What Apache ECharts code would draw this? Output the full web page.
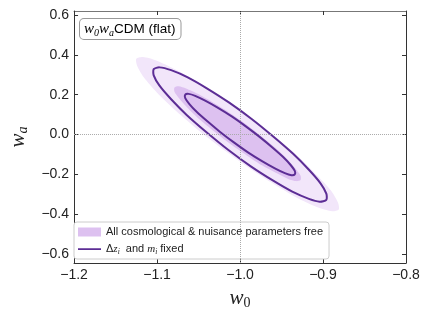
<!DOCTYPE html>
<html>
<head>
<meta charset="utf-8">
<script src="https://cdn.jsdelivr.net/npm/echarts@6/dist/echarts.min.js"></script>
<style>
  html, body { margin: 0; background: #fff; }
  #chart { width: 430px; height: 322px; }
</style>
</head>
<body>
<div id="chart"></div>
<script>
// contour outlines, [w0, wa]
const freeOuter = [
  [-0.881, -0.376], [-0.882, -0.341], [-0.890, -0.283], [-0.907, -0.206], [-0.929, -0.114], [-0.957, -0.014],
  [-0.988, 0.086], [-1.020, 0.181], [-1.051, 0.264], [-1.079, 0.329], [-1.101, 0.372], [-1.117, 0.389],
  [-1.125, 0.380], [-1.124, 0.345], [-1.116, 0.287], [-1.100, 0.210], [-1.077, 0.118], [-1.049, 0.018],
  [-1.018, -0.082], [-0.986, -0.177], [-0.955, -0.260], [-0.928, -0.325], [-0.905, -0.368], [-0.889, -0.385]
];
const freeInner = [
  [-0.927, -0.228], [-0.927, -0.207], [-0.933, -0.172], [-0.943, -0.125], [-0.957, -0.068], [-0.975, -0.007],
  [-0.994, 0.055], [-1.014, 0.113], [-1.034, 0.164], [-1.051, 0.204], [-1.065, 0.231], [-1.074, 0.242],
  [-1.079, 0.236], [-1.079, 0.215], [-1.073, 0.180], [-1.063, 0.133], [-1.049, 0.076], [-1.031, 0.015],
  [-1.012, -0.047], [-0.992, -0.105], [-0.973, -0.156], [-0.955, -0.196], [-0.942, -0.223], [-0.932, -0.234]
];
const fixedOuter = [
  [-0.896, -0.328], [-0.896, -0.297], [-0.903, -0.245], [-0.917, -0.177], [-0.936, -0.097], [-0.960, -0.010],
  [-0.986, 0.078], [-1.013, 0.160], [-1.040, 0.232], [-1.063, 0.287], [-1.083, 0.323], [-1.097, 0.337],
  [-1.104, 0.328], [-1.104, 0.297], [-1.097, 0.245], [-1.083, 0.177], [-1.064, 0.097], [-1.040, 0.010],
  [-1.014, -0.078], [-0.987, -0.160], [-0.960, -0.232], [-0.937, -0.287], [-0.917, -0.323], [-0.904, -0.337]
];
const fixedInner = [
  [-0.934, -0.200], [-0.934, -0.183], [-0.939, -0.153], [-0.948, -0.113], [-0.961, -0.065], [-0.976, -0.013],
  [-0.993, 0.041], [-1.010, 0.091], [-1.027, 0.135], [-1.042, 0.170], [-1.054, 0.194], [-1.062, 0.204],
  [-1.066, 0.200], [-1.066, 0.183], [-1.061, 0.153], [-1.052, 0.113], [-1.039, 0.065], [-1.024, 0.013],
  [-1.007, -0.041], [-0.990, -0.091], [-0.973, -0.135], [-0.958, -0.170], [-0.946, -0.194], [-0.938, -0.204]
];

const fiducial = [-1.0, 0.0];
const yTicks = [-0.6, -0.4, -0.2, 0.0, 0.2, 0.4, 0.6];
const names = ['All cosmological & nuisance parameters free', 'fixed'];

const LIGHT = '#f2e6fa';
const MEDIUM = '#ddc1f0';
const DARK = '#5c2d95';
const SANS = 'Liberation Sans';
const SERIF = 'Liberation Serif';

const fmt = v => (v < 0 ? '\u2212' : '') + Math.abs(v).toFixed(1);

function contour(name, pts, fill, stroke, z) {
  return {
    type: 'custom',
    name: name,
    z: z,
    silent: true,
    data: [fiducial],
    itemStyle: { color: fill || stroke },
    renderItem: (params, api) => ({
      type: 'polygon',
      shape: { points: pts.map(p => api.coord(p)), smooth: 0.25 },
      style: { fill: fill || 'none', stroke: stroke || null, lineWidth: 2 }
    })
  };
}

const axisLineStyle = { color: '#333', width: 1 };
const tickStyle = { inside: true, length: 4, lineStyle: { color: '#333' } };
const labelStyle = { fontFamily: SANS, fontSize: 14, color: '#222', formatter: fmt };
const mathRich = {
  i: { fontFamily: SERIF, fontStyle: 'italic', fontSize: 21, color: '#222', lineHeight: 24 },
  s: { fontFamily: SERIF, fontSize: 14, color: '#222', lineHeight: 24, verticalAlign: 'bottom' },
  t: { fontFamily: SERIF, fontStyle: 'italic', fontSize: 14, color: '#222', lineHeight: 24, verticalAlign: 'bottom' }
};

const chart = echarts.init(document.getElementById('chart'));
chart.setOption({
  animation: false,
  grid: { left: 69, right: 24, top: 11, bottom: 59 },
  xAxis: [{
    type: 'value', min: -1.2, max: -0.8, interval: 0.1, position: 'bottom',
    axisLine: { onZero: false, lineStyle: axisLineStyle }, axisTick: tickStyle,
    axisLabel: Object.assign({ margin: 5 }, labelStyle),
    splitLine: { show: false },
    name: '{i|w}{s|0}', nameLocation: 'middle', nameGap: 23,
    nameTextStyle: { rich: mathRich }
  }, {
    type: 'value', min: -1.2, max: -0.8, interval: 0.1, position: 'top',
    axisLine: { onZero: false, lineStyle: { color: '#777' } }, axisTick: tickStyle,
    axisLabel: { show: false }, splitLine: { show: false }
  }],
  yAxis: [{
    type: 'value', min: -0.645, max: 0.62, position: 'left',
    axisLine: { onZero: false, lineStyle: axisLineStyle },
    axisTick: Object.assign({ customValues: yTicks }, tickStyle),
    axisLabel: Object.assign({ customValues: yTicks, margin: 5 }, labelStyle),
    splitLine: { show: false },
    name: '{i|w}{t|a}', nameLocation: 'middle', nameGap: 33, nameRotate: 90,
    nameTextStyle: { rich: mathRich }
  }, {
    type: 'value', min: -0.645, max: 0.62, position: 'right',
    axisLine: { onZero: false, lineStyle: axisLineStyle },
    axisTick: Object.assign({ customValues: yTicks }, tickStyle),
    axisLabel: { show: false }, splitLine: { show: false }
  }],
  legend: {
    orient: 'vertical', left: 74, top: 222,
    data: [
      { name: names[0], icon: 'rect', itemStyle: { color: MEDIUM } },
      { name: names[1], icon: 'path://M0,0h0.01M0,3.7H23V5.5H0ZM22.99,9h0.01', itemStyle: { color: DARK } }
    ],
    itemWidth: 23, itemHeight: 9, itemGap: 3,
    padding: [3, 6, 3, 4],
    borderColor: '#ccc', borderWidth: 1, borderRadius: 3, backgroundColor: '#fff',
    textStyle: {
      fontFamily: SANS, fontSize: 11, color: '#222', lineHeight: 14,
      rich: {
        n: { fontFamily: SANS, fontSize: 11, color: '#222' },
        i: { fontFamily: SERIF, fontStyle: 'italic', fontSize: 11, color: '#222' },
        s: { fontFamily: SERIF, fontStyle: 'italic', fontSize: 7.5, color: '#222', verticalAlign: 'bottom' }
      }
    },
    formatter: n => n === names[1]
      ? '{n|\u0394}{i|z}{s|i}{n|  and }{i|m}{s|i}{n| fixed}'
      : '{n|' + n + '}'
  },
  graphic: [{
    type: 'text', left: 79, top: 18, z: 100,
    style: {
      text: '{i|w}{s|0}{i|w}{s|a}{n|CDM (flat)}',
      backgroundColor: '#fff', borderColor: '#999', borderWidth: 1, borderRadius: 4,
      padding: [2, 5, 1, 4],
      rich: {
        i: { fontFamily: SERIF, fontStyle: 'italic', fontSize: 15, color: '#222', lineHeight: 17 },
        s: { fontFamily: SERIF, fontStyle: 'italic', fontSize: 10, color: '#222', lineHeight: 17, verticalAlign: 'bottom' },
        n: { fontFamily: SANS, fontSize: 13.5, color: '#222', lineHeight: 17 }
      }
    }
  }],
  series: [
    contour(names[0], freeOuter, LIGHT, null, 1),
    contour(names[0], freeInner, MEDIUM, null, 2),
    {
      type: 'line', data: [], z: 3, silent: true,
      markLine: {
        silent: true, symbol: 'none', label: { show: false },
        lineStyle: { type: 'dotted', color: '#aaa', width: 1 },
        data: [{ xAxis: fiducial[0] }, { yAxis: fiducial[1] }]
      }
    },
    contour(names[1], fixedOuter, null, DARK, 4),
    contour(names[1], fixedInner, null, DARK, 5)
  ]
});
</script>
</body>
</html>
